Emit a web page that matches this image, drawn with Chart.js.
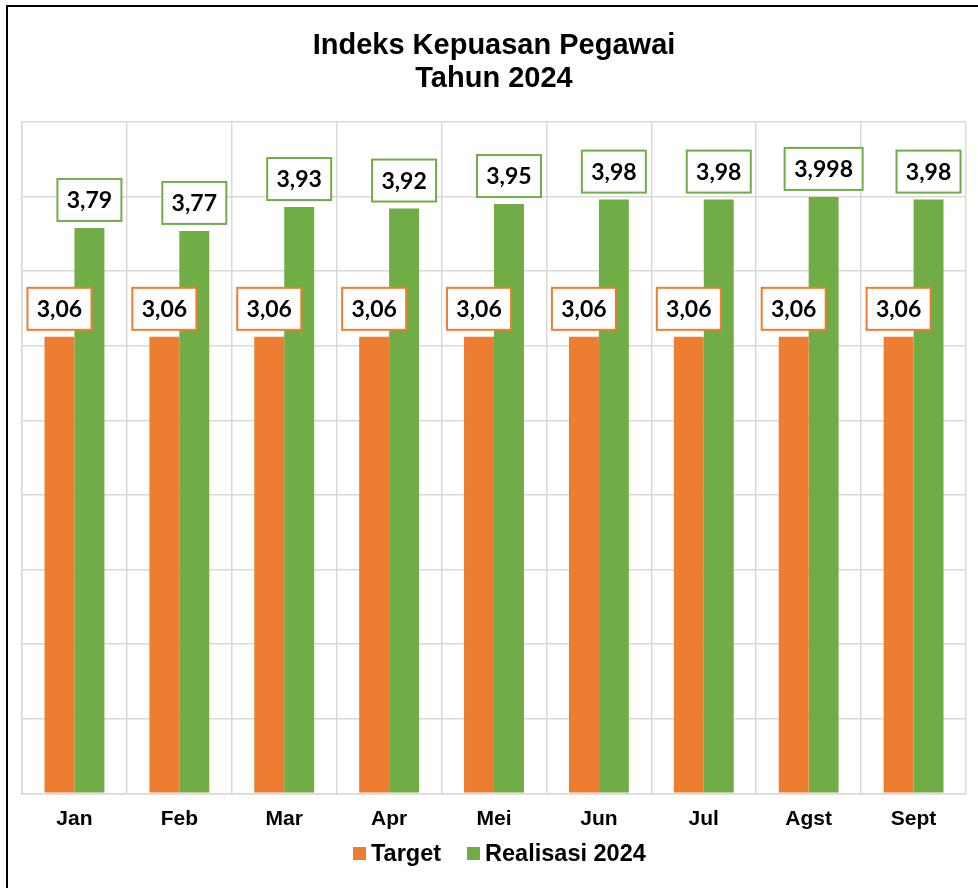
<!DOCTYPE html>
<html>
<head>
<meta charset="utf-8">
<script src="https://cdn.jsdelivr.net/npm/chart.js@4.4.1/dist/chart.umd.min.js"></script>
<style>
  html, body { margin: 0; padding: 0; background: #fff; }
  .frame { position: absolute; left: 6px; top: 5px; width: 1000px; height: 900px;
           border-left: 2px solid #000; border-top: 2px solid #000; }
  .wrap { position: absolute; left: 0; top: 0; width: 978px; height: 888px; }
  .legend { position: absolute; left: 353px; top: 840px; display: flex; align-items: center;
            font: bold 23.5px "Liberation Sans", Arial, sans-serif; line-height: 27px; color: #000; }
  .legend .item { display: flex; align-items: center; margin-right: 26px; }
  .legend .box { width: 13px; height: 13px; margin-right: 5px; }
</style>
</head>
<body>
<div class="frame"></div>
<div class="wrap"><canvas id="chart" width="978" height="888"></canvas></div>
<div class="legend" id="legend"></div>
<script>
const months = ['Jan', 'Feb', 'Mar', 'Apr', 'Mei', 'Jun', 'Jul', 'Agst', 'Sept'];
const target = [3.06, 3.06, 3.06, 3.06, 3.06, 3.06, 3.06, 3.06, 3.06];
const realisasi = [3.79, 3.77, 3.93, 3.92, 3.95, 3.98, 3.98, 3.998, 3.98];
const yTicks = [0, 0.5, 1, 1.5, 2, 2.5, 3, 3.5, 4, 4.5];

const orange = '#ED7D31';
const green = '#70AD47';
const gridColor = '#D9D9D9';

// white boxes with coloured border above each bar
const valueBoxes = {
    id: 'valueBoxes',
    afterDatasetsDraw(chart) {
        const ctx = chart.ctx;
        ctx.save();
        ctx.font = 'bold 23px Lato, "Open Sans", sans-serif';
        ctx.textAlign = 'center';
        ctx.textBaseline = 'middle';
        chart.data.datasets.forEach((ds, di) => {
            chart.getDatasetMeta(di).data.forEach((bar, i) => {
                const text = String(ds.data[i]).replace('.', ',');
                const w = Math.round(ctx.measureText(text).width + 19);
                const h = 42;
                const x = bar.x - w / 2;
                const y = bar.y - 7 - h;
                ctx.fillStyle = '#fff';
                ctx.fillRect(x, y, w, h);
                ctx.strokeStyle = ds.backgroundColor;
                ctx.lineWidth = 2;
                ctx.strokeRect(x, y, w, h);
                ctx.fillStyle = '#000';
                ctx.fillText(text, bar.x, y + h / 2 + 1);
            });
        });
        ctx.restore();
    }
};

const chart = new Chart(document.getElementById('chart'), {
    type: 'bar',
    data: {
        labels: months,
        datasets: [
            { label: 'Target', data: target, backgroundColor: orange,
              barPercentage: 1, categoryPercentage: 0.571 },
            { label: 'Realisasi 2024', data: realisasi, backgroundColor: green,
              barPercentage: 1, categoryPercentage: 0.571 }
        ]
    },
    options: {
        responsive: false,
        animation: false,
        layout: { padding: { left: 22, right: 12, top: 0, bottom: 42.7 } },
        scales: {
            x: {
                grid: { color: gridColor, lineWidth: 1.5, drawTicks: false, offset: true },
                border: { color: gridColor, width: 1.5 },
                ticks: { color: '#000', padding: 13.4,
                         font: { family: '"Liberation Sans", Arial, sans-serif', size: 21, weight: 'bold' } }
            },
            y: {
                min: yTicks[0],
                max: yTicks[yTicks.length - 1],
                afterBuildTicks: axis => { axis.ticks = yTicks.map(v => ({ value: v })); },
                grid: { color: gridColor, lineWidth: 1.5, drawTicks: false },
                border: { color: gridColor, width: 1.5 },
                ticks: { display: false }
            }
        },
        plugins: {
            legend: { display: false },
            tooltip: { enabled: false },
            title: {
                display: true,
                text: ['Indeks Kepuasan Pegawai', 'Tahun 2024'],
                color: '#000',
                font: { family: '"Liberation Sans", Arial, sans-serif', size: 29, weight: 'bold', lineHeight: 1.14 },
                padding: { top: 29.5, bottom: 26.4 }
            }
        }
    },
    plugins: [valueBoxes]
});

// html legend built from the datasets
const legendEl = document.getElementById('legend');
chart.data.datasets.forEach(ds => {
    const item = document.createElement('div');
    item.className = 'item';
    const box = document.createElement('span');
    box.className = 'box';
    box.style.background = ds.backgroundColor;
    const txt = document.createElement('span');
    txt.textContent = ds.label;
    item.appendChild(box);
    item.appendChild(txt);
    legendEl.appendChild(item);
});
</script>
</body>
</html>
